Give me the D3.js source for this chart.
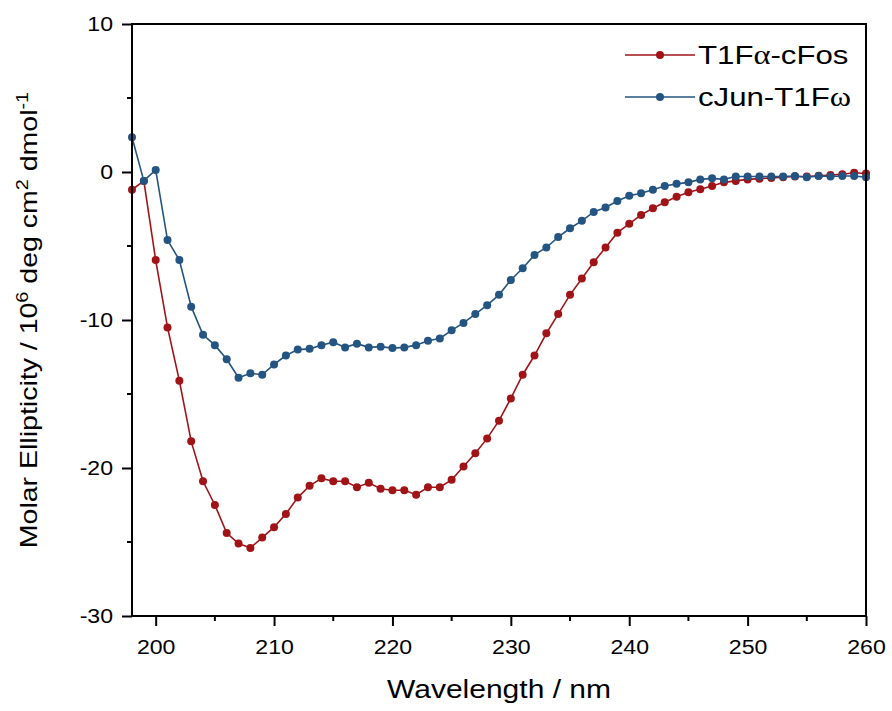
<!DOCTYPE html>
<html>
<head>
<meta charset="utf-8">
<script src="https://cdn.jsdelivr.net/npm/d3@7"></script>
<style>
  html, body { margin: 0; padding: 0; background: #fff; overflow: hidden; }
  svg { display: block; }
  text { font-family: "Liberation Sans", Arial, sans-serif; fill: #000; }
</style>
</head>
<body>
<div id="main"></div>
<script>
// wavelengths 198..260 nm, one point per nm
var wavelengths = d3.range(198, 261);

var fosValues = [
  -1.2, -0.6, -5.95, -10.5, -14.1, -18.2, -20.9, -22.5, -24.4, -25.1,
  -25.4, -24.7, -24.0, -23.1, -22.0, -21.2, -20.7, -20.9, -20.9, -21.3,
  -21.0, -21.4, -21.5, -21.5, -21.8, -21.3, -21.3, -20.8, -19.9, -19.0,
  -18.0, -16.8, -15.3, -13.7, -12.4, -10.9, -9.6, -8.3, -7.2, -6.1,
  -5.1, -4.1, -3.5, -2.9, -2.45, -2.05, -1.67, -1.37, -1.17, -0.95,
  -0.7, -0.6, -0.5, -0.45, -0.4, -0.35, -0.3, -0.3, -0.25, -0.2,
  -0.15, -0.05, -0.1
];

var junValues = [
  2.35, -0.6, 0.14, -4.6, -5.95, -9.1, -11.0, -11.7, -12.65, -13.9,
  -13.6, -13.7, -13.0, -12.4, -12.0, -11.95, -11.7, -11.5, -11.85, -11.6,
  -11.85, -11.8, -11.9, -11.85, -11.7, -11.4, -11.25, -10.7, -10.2, -9.6,
  -9.0, -8.3, -7.3, -6.5, -5.6, -5.1, -4.4, -3.8, -3.3, -2.7,
  -2.4, -1.96, -1.6, -1.44, -1.2, -0.95, -0.8, -0.7, -0.5, -0.43,
  -0.5, -0.3, -0.3, -0.3, -0.3, -0.3, -0.27, -0.35, -0.27, -0.3,
  -0.27, -0.27, -0.35
];

// legend names split so the greek letter can use a serif face
var seriesNames = [["T1F", "\u03b1", "-cFos"], ["cJun-T1F", "\u03c9", ""]];
var seriesColors = ["#a01418", "#245582"];
var xTicks = [200, 210, 220, 230, 240, 250, 260];
var yTicks = [10, 0, -10, -20, -30];

var outerWidth = 892, outerHeight = 711;
var marginLeft = 132, marginRight = 26, marginTop = 24, marginBottom = 95;
var innerWidth = outerWidth - marginLeft - marginRight;
var innerHeight = outerHeight - marginTop - marginBottom;

// the reference text is a bit wider than plain Arial
var stretch = 1.2, tickStretch = 1.1;

var xScale = d3.scaleLinear().domain([198, 260]).range([0, innerWidth]);
var yScale = d3.scaleLinear().domain([-30, 10]).range([innerHeight, 0]);

var svg = d3.select("#main").append("svg")
    .attr("width", outerWidth)
    .attr("height", outerHeight);

var g = svg.append("g")
    .attr("transform", "translate(" + marginLeft + "," + marginTop + ")");

var xMinor = d3.range(205, 260, 10);
var yMinor = [5, -5, -15, -25];

var xAxis = d3.axisBottom(xScale).tickValues(xTicks).tickSize(10).tickPadding(13).tickFormat(d => String(d));
var yAxis = d3.axisLeft(yScale).tickValues(yTicks).tickSize(10).tickPadding(9).tickFormat(d => String(d));

var xAxisG = g.append("g")
    .attr("transform", "translate(0," + innerHeight + ")")
    .call(xAxis);
var yAxisG = g.append("g").call(yAxis);

[xAxisG, yAxisG].forEach(function (ax) {
  ax.select(".domain").remove();
  ax.selectAll(".tick line").attr("stroke", "#000").attr("stroke-width", 2);
  ax.selectAll(".tick text").style("font-size", "21px").attr("fill", "#000");
});
xAxisG.selectAll(".tick text").attr("transform", "scale(" + tickStretch + ",1)");
yAxisG.selectAll(".tick text")
    .attr("x", -19 / tickStretch)
    .attr("transform", "scale(" + tickStretch + ",1)");

g.append("g").selectAll("line").data(xMinor).enter().append("line")
    .attr("x1", d => xScale(d)).attr("x2", d => xScale(d))
    .attr("y1", innerHeight).attr("y2", innerHeight + 5)
    .attr("stroke", "#000").attr("stroke-width", 2);

g.append("g").selectAll("line").data(yMinor).enter().append("line")
    .attr("x1", 0).attr("x2", -5)
    .attr("y1", d => yScale(d)).attr("y2", d => yScale(d))
    .attr("stroke", "#000").attr("stroke-width", 2);

// data
var plotData = [fosValues, junValues].map(function (vals, i) {
  return {
    name: seriesNames[i],
    color: seriesColors[i],
    points: wavelengths.map(function (w, j) { return { x: w, y: vals[j] }; })
  };
});

var line = d3.line().x(d => xScale(d.x)).y(d => yScale(d.y));

var seriesG = g.selectAll(".series").data(plotData).enter()
    .append("g").attr("class", "series");

seriesG.append("path")
    .attr("d", d => line(d.points))
    .attr("fill", "none")
    .attr("stroke", d => d.color)
    .attr("stroke-width", 1.6);

seriesG.each(function (s) {
  d3.select(this).selectAll("circle").data(s.points).enter()
      .append("circle")
      .attr("cx", d => xScale(d.x))
      .attr("cy", d => yScale(d.y))
      .attr("r", 4)
      .attr("fill", s.color);
});

// frame
g.append("rect")
    .attr("x", 0).attr("y", 0)
    .attr("width", innerWidth).attr("height", innerHeight)
    .attr("fill", "none").attr("stroke", "#000").attr("stroke-width", 2);

// legend
var legend = svg.append("g").attr("transform", "translate(625,55)");
var legendRows = legend.selectAll("g").data(plotData).enter().append("g")
    .attr("transform", (d, i) => "translate(0," + (i * 42) + ")");
legendRows.append("line")
    .attr("x1", 0).attr("x2", 70).attr("y1", 0).attr("y2", 0)
    .attr("stroke", d => d.color).attr("stroke-width", 1.6);
legendRows.append("circle")
    .attr("cx", 35).attr("cy", 0).attr("r", 4).attr("fill", d => d.color);
var legendText = legendRows.append("text")
    .attr("transform", "translate(73,0) scale(" + stretch + ",1)")
    .attr("dy", "0.36em")
    .style("font-size", "26px");
legendText.append("tspan").text(d => d.name[0]);
legendText.append("tspan")
    .style("font-family", "'Liberation Serif', 'Times New Roman', serif")
    .style("font-size", "27px")
    .text(d => d.name[1]);
legendText.append("tspan").text(d => d.name[2]);

// axis labels
svg.append("text")
    .attr("transform", "translate(" + (marginLeft + innerWidth / 2) + ",698) scale(" + stretch + ",1)")
    .attr("text-anchor", "middle")
    .style("font-size", "25px")
    .text("Wavelength / nm");

var yLabel = svg.append("text")
    .attr("transform", "translate(37," + (marginTop + innerHeight / 2) + ") rotate(-90) scale(1.24,1)")
    .attr("text-anchor", "middle")
    .style("font-size", "23px");
yLabel.append("tspan").text("Molar Ellipticity / 10");
yLabel.append("tspan").attr("baseline-shift", "super").style("font-size", "16px").text("6");
yLabel.append("tspan").text(" deg cm");
yLabel.append("tspan").attr("baseline-shift", "super").style("font-size", "16px").text("2");
yLabel.append("tspan").text(" dmol");
yLabel.append("tspan").attr("baseline-shift", "super").style("font-size", "16px").text("-1");
</script>
</body>
</html>
